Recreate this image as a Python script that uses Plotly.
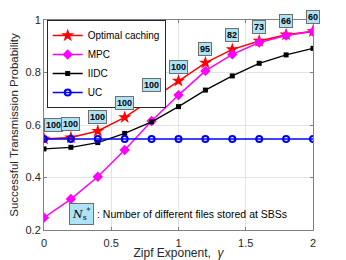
import plotly.graph_objects as go

gamma = [0, 0.2, 0.4, 0.6, 0.8, 1.0, 1.2, 1.4, 1.6, 1.8, 2.0]
optimal = [0.547, 0.552, 0.577, 0.629, 0.698, 0.768, 0.837, 0.888, 0.920, 0.944, 0.957]
mpc = [0.247, 0.318, 0.403, 0.505, 0.615, 0.714, 0.806, 0.869, 0.914, 0.941, 0.956]
iidc = [0.509, 0.515, 0.533, 0.568, 0.612, 0.670, 0.733, 0.787, 0.835, 0.867, 0.892]
uc = [0.547] * 11
ns_labels = ["100", "100", "100", "100", "100", "100", "95", "82", "73", "66", "60"]

fig = go.Figure()
fig.add_trace(go.Scatter(x=gamma, y=optimal, name="Optimal caching", mode="lines+markers",
                         line=dict(color="red", width=1.5),
                         marker=dict(symbol="star", size=10, color="red")))
fig.add_trace(go.Scatter(x=gamma, y=mpc, name="MPC", mode="lines+markers",
                         line=dict(color="magenta", width=1.5),
                         marker=dict(symbol="diamond", size=8, color="magenta")))
fig.add_trace(go.Scatter(x=gamma, y=iidc, name="IIDC", mode="lines+markers",
                         line=dict(color="black", width=1.3),
                         marker=dict(symbol="square", size=5, color="black")))
fig.add_trace(go.Scatter(x=gamma, y=uc, name="UC", mode="lines+markers",
                         line=dict(color="blue", width=1.5),
                         marker=dict(symbol="circle-open", size=6, color="blue",
                                     line=dict(width=2))))

for i, (g, v, t) in enumerate(zip(gamma, optimal, ns_labels)):
    fig.add_annotation(x=g, y=v, text="<b>%s</b>" % t, showarrow=False,
                       yshift=14, xshift=(9 if i == 0 else 0),
                       font=dict(size=9, color="black", family="Liberation Sans"),
                       bgcolor="#aee3f5", bordercolor="#6f6f6f", borderwidth=1, borderpad=1)

fig.add_annotation(x=0.093, y=0.074, xref="paper", yref="paper",
                   text="<i>N</i><sub>s</sub><sup>*</sup>", showarrow=False,
                   font=dict(size=11, color="black", family="DejaVu Serif"),
                   bgcolor="#aee3f5", bordercolor="#6f6f6f", borderwidth=1, borderpad=2,
                   xanchor="left", yanchor="middle")
fig.add_annotation(x=0.19, y=0.074, xref="paper", yref="paper",
                   text=": Number of different files stored at SBSs", showarrow=False,
                   font=dict(size=10.5, color="black", family="Liberation Sans"),
                   xanchor="left", yanchor="middle")

axis_common = dict(showgrid=True, gridcolor="#e3e3e3", gridwidth=1, zeroline=False,
                   showline=True, linecolor="#808080", linewidth=1, mirror="ticks",
                   ticks="inside", ticklen=3, tickcolor="#808080", automargin=False,
                   tickfont=dict(size=11, color="#262626", family="Liberation Sans"))

fig.update_xaxes(range=[0, 2], tickvals=[0, 0.5, 1, 1.5, 2], ticktext=["0", "0.5", "1", "1.5", "2"],
                 ticklabelstandoff=3,
                 title=dict(text="Zipf Exponent,  <i>γ</i>", standoff=1,
                            font=dict(size=12, color="#262626", family="Liberation Sans")),
                 **axis_common)
fig.update_yaxes(range=[0.2, 1], tickvals=[0.2, 0.4, 0.6, 0.8, 1], ticktext=["0.2", "0.4", "0.6", "0.8", "1"],
                 title=dict(text="Successful Transmission Probability", standoff=4,
                            font=dict(size=11.5, color="#262626", family="Liberation Sans")),
                 **axis_common)

fig.update_layout(width=338, height=252, margin=dict(l=36, r=33, t=12, b=30, autoexpand=False),
                  paper_bgcolor="white", plot_bgcolor="white",
                  showlegend=True,
                  legend=dict(x=0.01, y=1.0, xanchor="left", yanchor="top",
                              bgcolor="white", bordercolor="#262626", borderwidth=1,
                              font=dict(size=10, color="black", family="Liberation Sans"),
                              tracegroupgap=0, itemwidth=30))

fig.write_html("out.html")
